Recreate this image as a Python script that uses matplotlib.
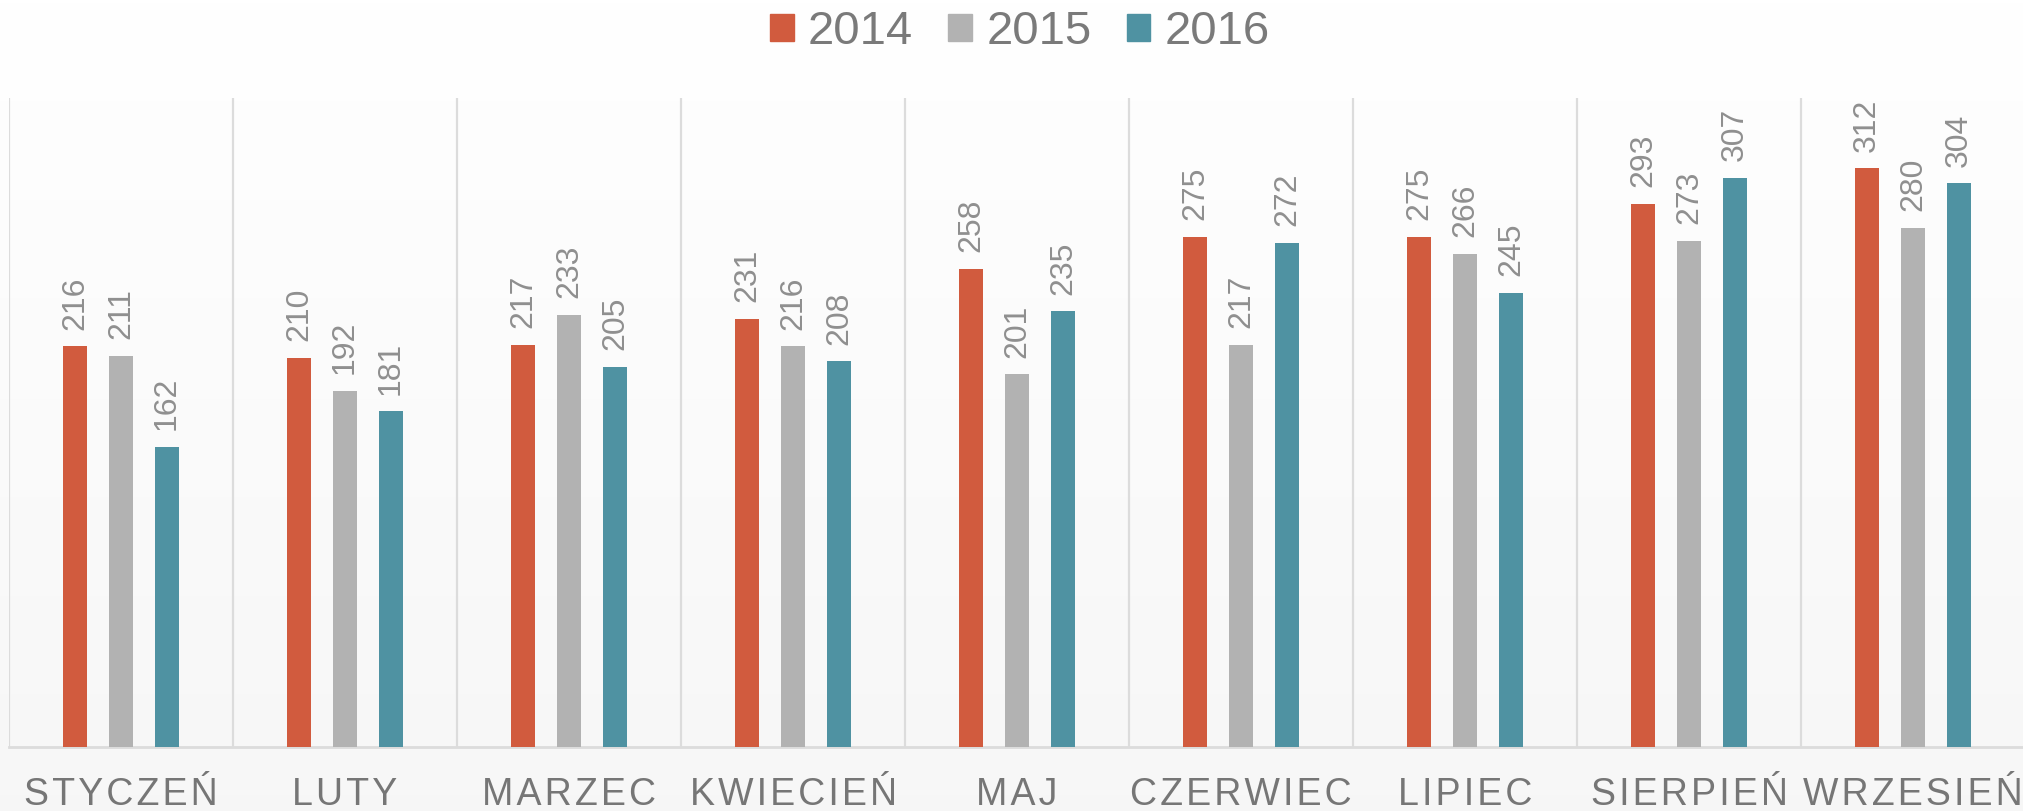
import numpy as np
import matplotlib
matplotlib.use("Agg")
import matplotlib.pyplot as plt
from matplotlib.patches import Patch

plt.rcParams['font.family'] = ['Liberation Sans', 'DejaVu Sans']

months = ["STYCZEŃ", "LUTY", "MARZEC", "KWIECIEŃ", "MAJ",
          "CZERWIEC", "LIPIEC", "SIERPIEŃ", "WRZESIEŃ"]
years = ["2014", "2015", "2016"]
v2014 = [216, 210, 217, 231, 258, 275, 275, 293, 312]
v2015 = [211, 192, 233, 216, 201, 217, 266, 273, 280]
v2016 = [162, 181, 205, 208, 235, 272, 245, 307, 304]
colors = ["#D15B3E", "#B2B2B2", "#4F92A2"]

W, H = 2023, 811
fig = plt.figure(figsize=(W / 100, H / 100), dpi=100)

# soft vertical gradient behind everything
bg = fig.add_axes([0, 0, 1, 1], zorder=-10)
grad = np.linspace(1.0, 0.968, 256).reshape(-1, 1)
bg.imshow(np.dstack([grad, grad, grad]), aspect='auto', extent=[0, 1, 0, 1])
bg.axis('off')

# plot area in pixels: left 9, width 9*224, bottom at y=747, top at y=98
ax = fig.add_axes([9 / W, (H - 747) / H, 2016 / W, (747 - 98) / H])
ax.patch.set_alpha(0)

x = np.arange(len(months))
step = 46 / 224
bw = 24 / 224
for i, (vals, c) in enumerate(zip([v2014, v2015, v2016], colors)):
    pos = x + (i - 1) * step
    ax.bar(pos, vals, width=bw, color=c, zorder=3)
    for p, v in zip(pos, vals):
        ax.annotate(str(v), (p, v), xytext=(0, 12), textcoords='offset points',
                    rotation=90, ha='center', va='bottom',
                    fontsize=23, color='#8f8f8f')

ax.set_xlim(-0.5, len(months) - 0.5)
ax.set_ylim(0, 350)
ax.set_yticks([])
ax.set_xticks(np.arange(-0.5, len(months)))
ax.set_xticklabels([])
ax.tick_params(axis='x', length=0)
ax.grid(True, axis='x', color='#dcdcdc', lw=1.6, zorder=0)

# month names, baseline ~58 px under the axis, slightly letter-spaced
for xi, m in zip(x, months):
    ax.annotate("\u200a".join(m), (xi, 0), xycoords=('data', 'axes fraction'),
                xytext=(0, -58), textcoords='offset pixels',
                ha='center', va='baseline', fontsize=27, color='#767676',
                annotation_clip=False)

for s in ['top', 'right', 'left']:
    ax.spines[s].set_visible(False)
ax.spines['bottom'].set_color('#dcdcdc')
ax.spines['bottom'].set_linewidth(2)

handles = [Patch(color=c, label=y) for c, y in zip(colors, years)]
leg = fig.legend(handles=handles, loc='center', bbox_to_anchor=(1020 / W, 1 - 32 / H),
                 ncol=3, frameon=False, fontsize=34, handlelength=0.5, handleheight=0.5,
                 handletextpad=0.3, columnspacing=0.75)
for t in leg.get_texts():
    t.set_color('#7a7a7a')

fig.savefig("out.png", dpi=100)
